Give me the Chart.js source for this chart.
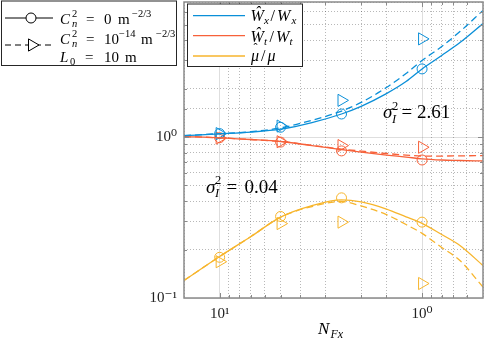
<!DOCTYPE html>
<html>
<head>
<meta charset="utf-8">
<script src="https://cdn.jsdelivr.net/npm/chart.js@4.4.1/dist/chart.umd.min.js"></script>
<style>
  html, body { margin: 0; padding: 0; background: #fff; }
  #wrap { position: relative; width: 484px; height: 344px; }
  #chart { position: absolute; left: 0; top: 0; }
  #overlay { position: absolute; left: 0; top: 0; pointer-events: none; }
  #overlay text { font-family: "Liberation Serif", "DejaVu Serif", serif; fill: #000; }
  .it { font-style: italic; }
</style>
</head>
<body>
<div id="wrap">
  <canvas id="chart" width="484" height="344"></canvas>
  <svg id="overlay" width="484" height="344" xmlns="http://www.w3.org/2000/svg">
    <!-- left legend: line styles -->
    <rect x="1.5" y="1" width="175" height="64.5" fill="#fff" stroke="#262626" stroke-width="1"/>
    <line x1="5" y1="18" x2="53" y2="18" stroke="#000" stroke-width="1"/>
    <circle cx="31" cy="18" r="5" fill="#fff" stroke="#000" stroke-width="1"/>
    <line x1="5" y1="45" x2="53" y2="45" stroke="#000" stroke-width="1" stroke-dasharray="6 4"/>
    <polygon points="39,45 28.5,38.9 28.5,51.1" fill="#fff" stroke="#000" stroke-width="1"/>
    <g font-size="15">
      <text x="60" y="23.5" class="it">C</text>
      <text x="72" y="16.5" font-size="10.5">2</text>
      <text x="72" y="27" font-size="10.5" class="it">n</text>
      <text x="86" y="23.5">=</text>
      <text x="104" y="23.5">0</text>
      <text x="118" y="23.5">m</text>
      <text x="132" y="16.5" font-size="10.5">−2/3</text>

      <text x="60" y="43.5" class="it">C</text>
      <text x="72" y="36.5" font-size="10.5">2</text>
      <text x="72" y="47" font-size="10.5" class="it">n</text>
      <text x="86" y="43.5">=</text>
      <text x="104" y="43.5">10</text>
      <text x="119" y="36.5" font-size="10.5">−14</text>
      <text x="141" y="43.5">m</text>
      <text x="156" y="36.5" font-size="10.5">−2/3</text>

      <text x="60" y="62" class="it">L</text>
      <text x="70" y="64.5" font-size="10.5">0</text>
      <text x="85" y="62">=</text>
      <text x="104" y="62">10</text>
      <text x="125" y="62">m</text>
    </g>

    <!-- right legend: colours -->
    <rect x="187.5" y="4" width="115" height="62.5" fill="#fff" stroke="#262626" stroke-width="1"/>
    <line x1="193" y1="15.7" x2="245" y2="15.7" stroke="#0a8fd8" stroke-width="1.3"/>
    <line x1="193" y1="35.7" x2="245" y2="35.7" stroke="#f7613a" stroke-width="1.3"/>
    <line x1="193" y1="56" x2="245" y2="56" stroke="#f7b52c" stroke-width="1.3"/>
    <g font-size="16">
      <text x="250.5" y="21" class="it">Ŵ</text>
      <text x="264" y="24" font-size="11" class="it">x</text>
      <text x="270.5" y="21">/</text>
      <text x="277" y="21" class="it">W</text>
      <text x="291.5" y="24" font-size="11" class="it">x</text>

      <text x="250.5" y="41.5" class="it">Ŵ</text>
      <text x="264" y="44.5" font-size="11" class="it">t</text>
      <text x="269.5" y="41.5">/</text>
      <text x="276" y="41.5" class="it">W</text>
      <text x="289.5" y="44.5" font-size="11" class="it">t</text>

      <text x="251" y="60.5" class="it">μ</text>
      <text x="253.5" y="52" font-size="12">ˆ</text>
      <text x="261" y="60.5">/</text>
      <text x="267.5" y="60.5" class="it">μ</text>
    </g>

    <!-- annotations -->
    <g font-size="19">
      <text x="383" y="118" class="it">σ</text>
      <text x="392" y="109.5" font-size="12.5">2</text>
      <text x="392" y="122.5" font-size="12.5" class="it">I</text>
      <text x="401.5" y="118">=</text>
      <text x="417" y="118">2.61</text>

      <text x="206" y="192.5" class="it">σ</text>
      <text x="215" y="184" font-size="12.5">2</text>
      <text x="215" y="197" font-size="12.5" class="it">I</text>
      <text x="226.5" y="192.5">=</text>
      <text x="244.5" y="192.5">0.04</text>
    </g>

    <!-- x axis title -->
    <text x="318" y="334" font-size="17" class="it">N</text>
    <text x="330.5" y="338" font-size="12" class="it">Fx</text>
  </svg>
</div>
<script>
// x positions of the curve samples (N_Fx), reversed log axis
const xVals = [15, 10, 7, 5, 3.5, 2.5, 2, 1.5, 1.2, 1, 0.8, 0.65, 0.5];
// x positions of the simulation markers
const markerX = [10, 5, 2.5, 1];

// W_x hat / W_x
const wxSolid  = [1.02, 1.047, 1.074, 1.12, 1.23, 1.39, 1.55, 1.86, 2.21, 2.65, 3.21, 3.86, 5.07];
const wxDashed = [1.02, 1.05, 1.08, 1.14, 1.27, 1.45, 1.64, 2.03, 2.48, 2.99, 3.65, 4.52, 6.12];
const wxCircles   = [1.05, 1.15, 1.39, 2.65];
const wxTriangles = [1.05, 1.17, 1.69, 4.07];

// W_t hat / W_t
const wtSolid  = [1.007, 0.989, 0.965, 0.938, 0.885, 0.836, 0.807, 0.773, 0.751, 0.732, 0.72, 0.715, 0.71];
const wtDashed = [1.007, 0.989, 0.965, 0.938, 0.888, 0.842, 0.818, 0.79, 0.773, 0.762, 0.762, 0.764, 0.767];
const wtCircles   = [0.99, 0.93, 0.82, 0.72];
const wtTriangles = [0.985, 0.935, 0.885, 0.864];

// mu hat / mu
const muSolid  = [0.1285, 0.181, 0.241, 0.318, 0.375, 0.407, 0.395, 0.357, 0.319, 0.291, 0.248, 0.212, 0.159];
const muDashed = [0.1285, 0.181, 0.241, 0.318, 0.370, 0.398, 0.373, 0.330, 0.286, 0.252, 0.206, 0.171, 0.117];
const muCircles   = [0.179, 0.321, 0.419, 0.296];
const muTriangles = [0.168, 0.29, 0.296, 0.123];

const blue = '#0a8fd8';
const red = '#f7613a';
const yellow = '#f7b52c';

function lineSet(ys, color, dashed) {
    return {
        data: xVals.map((x, i) => ({ x: x, y: ys[i] })),
        borderColor: color,
        borderWidth: 1.3,
        borderDash: dashed ? [7, 4] : [],
        pointRadius: 0,
        fill: false,
        cubicInterpolationMode: 'monotone'
    };
}

function markerSet(ys, color, style) {
    return {
        data: markerX.map((x, i) => ({ x: x, y: ys[i] })),
        showLine: false,
        borderColor: color,
        backgroundColor: 'rgba(0,0,0,0)',
        pointStyle: style,
        pointRadius: style === 'circle' ? 5 : 7,
        pointRotation: style === 'triangle' ? 90 : 0,
        pointBorderWidth: 1
    };
}

function isDecade(v) {
    const l = Math.log10(v);
    return Math.abs(l - Math.round(l)) < 1e-6;
}

const supDigits = { '-': '⁻', '0': '⁰', '1': '¹', '2': '²', '3': '³' };
function decadeLabel(v) {
    if (!isDecade(v)) return '';
    const e = String(Math.round(Math.log10(v)));
    return '10' + e.split('').map(c => supDigits[c]).join('');
}

function gridColor(ctx) {
    return ctx.tick && isDecade(ctx.tick.value) ? 'rgba(0,0,0,0.13)' : 'rgba(0,0,0,0.28)';
}
function gridDash(ctx) {
    return ctx.tick && isDecade(ctx.tick.value) ? [] : [1, 2];
}

// axes box and inward tick marks like the original plot
const framePlugin = {
    id: 'frame',
    afterDatasetsDraw(chart) {
        const { ctx, chartArea: a, scales } = chart;
        ctx.save();
        ctx.strokeStyle = '#8a8a8a';
        ctx.lineWidth = 1;
        ctx.beginPath();
        scales.x.ticks.forEach(t => {
            const px = Math.round(scales.x.getPixelForValue(t.value)) + 0.5;
            if (px <= a.left + 1 || px >= a.right - 1) return;
            const len = isDecade(t.value) ? 5 : 3;
            ctx.moveTo(px, a.bottom); ctx.lineTo(px, a.bottom - len);
            ctx.moveTo(px, a.top); ctx.lineTo(px, a.top + len);
        });
        scales.y.ticks.forEach(t => {
            const py = Math.round(scales.y.getPixelForValue(t.value)) + 0.5;
            if (py <= a.top + 1 || py >= a.bottom - 1) return;
            const len = isDecade(t.value) ? 5 : 3;
            ctx.moveTo(a.left, py); ctx.lineTo(a.left + len, py);
            ctx.moveTo(a.right, py); ctx.lineTo(a.right - len, py);
        });
        ctx.stroke();
        ctx.lineWidth = 1.5;
        ctx.strokeRect(a.left, a.top, a.right - a.left, a.bottom - a.top);
        ctx.restore();
    }
};

// fixed axis sizes so the plot box sits where it does in the original
function fitX(s) {
    s.height = 46;
    s.paddingLeft = 0;
    s.paddingRight = 0;
}
function fitY(s) {
    s.width = 184;
    s.paddingTop = 0;
    s.paddingBottom = 0;
}

new Chart(document.getElementById('chart').getContext('2d'), {
    type: 'line',
    data: {
        datasets: [
            lineSet(wxSolid, blue, false),
            lineSet(wxDashed, blue, true),
            lineSet(wtSolid, red, false),
            lineSet(wtDashed, red, true),
            lineSet(muSolid, yellow, false),
            lineSet(muDashed, yellow, true),
            markerSet(wxCircles, blue, 'circle'),
            markerSet(wxTriangles, blue, 'triangle'),
            markerSet(wtCircles, red, 'circle'),
            markerSet(wtTriangles, red, 'triangle'),
            markerSet(muCircles, yellow, 'circle'),
            markerSet(muTriangles, yellow, 'triangle')
        ]
    },
    options: {
        responsive: false,
        devicePixelRatio: 1,
        animation: false,
        layout: { autoPadding: false, padding: { top: 2, right: 1, left: 0, bottom: 0 } },
        plugins: {
            legend: { display: false },
            tooltip: { enabled: false }
        },
        scales: {
            x: {
                type: 'logarithmic',
                bounds: 'data',
                min: 0.5,
                max: 15,
                reverse: true,
                afterFit: fitX,
                grid: { color: gridColor, lineWidth: 1, drawTicks: false },
                border: { display: false, dash: gridDash },
                ticks: {
                    autoSkip: false,
                    maxRotation: 0,
                    padding: 7,
                    color: '#222',
                    font: { family: '"Liberation Serif", "DejaVu Serif", serif', size: 15 },
                    callback: v => decadeLabel(v)
                }
            },
            y: {
                type: 'logarithmic',
                bounds: 'data',
                min: 0.1,
                max: 6.9,
                afterFit: fitY,
                grid: { color: gridColor, lineWidth: 1, drawTicks: false },
                border: { display: false, dash: gridDash },
                ticks: {
                    autoSkip: false,
                    padding: 7,
                    color: '#222',
                    font: { family: '"Liberation Serif", "DejaVu Serif", serif', size: 15 },
                    callback: v => decadeLabel(v)
                }
            }
        }
    },
    plugins: [framePlugin]
});
</script>
</body>
</html>
